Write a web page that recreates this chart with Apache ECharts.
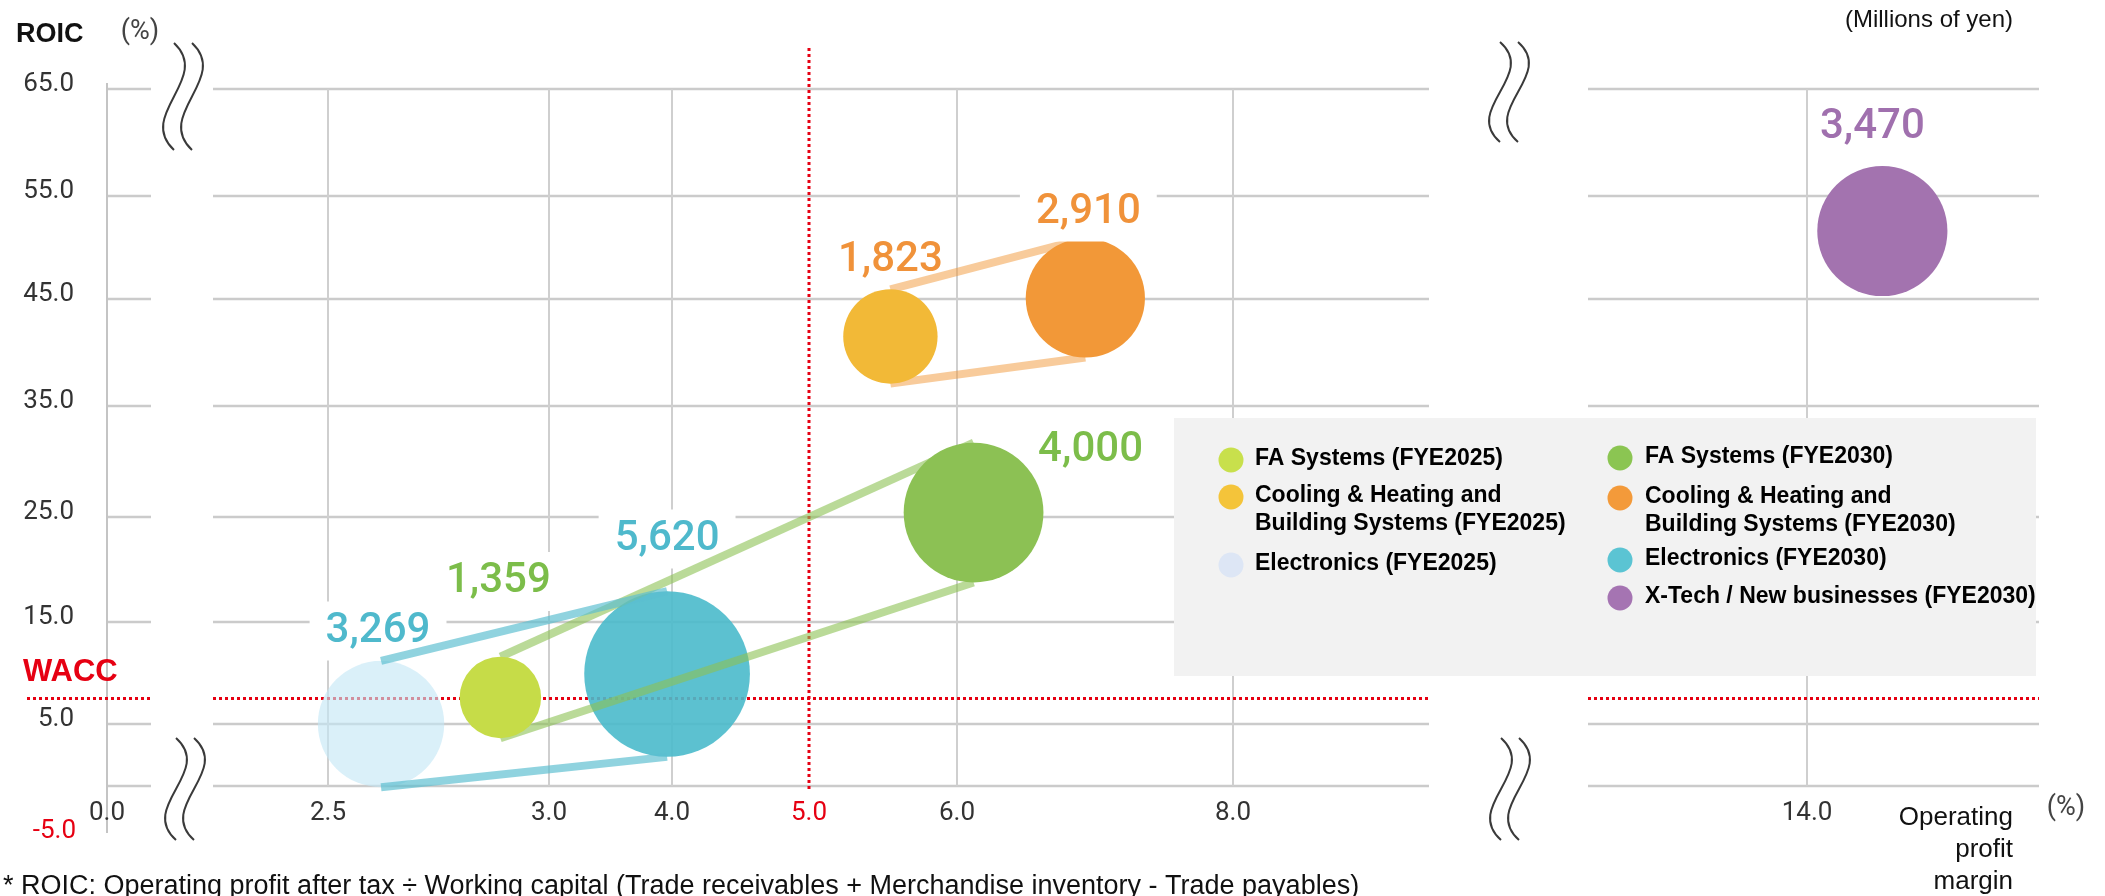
<!DOCTYPE html>
<html>
<head>
<meta charset="utf-8">
<title>ROIC and operating profit margin by segment</title>
<script src="https://cdn.jsdelivr.net/npm/echarts@6.0.0/dist/echarts.min.js"></script>
<style>
  html, body { margin: 0; padding: 0; background: #ffffff; }
  #chart { width: 2105px; height: 896px; }
</style>
</head>
<body>
<div id="chart"></div>
<script>
// ---------------- data ----------------
const seriesNames = [
  'FA Systems (FYE2025)',
  'Cooling & Heating and\nBuilding Systems (FYE2025)',
  'Electronics (FYE2025)',
  'FA Systems (FYE2030)',
  'Cooling & Heating and\nBuilding Systems (FYE2030)',
  'Electronics (FYE2030)',
  'X-Tech / New businesses (FYE2030)'
];
const opMargin = [2.89, 5.55, 2.62, 6.12, 6.93, 3.96, 14.55];   // operating profit margin (%)
const roic     = [7.6, 41.5, 5.0, 25.4, 45.1, 9.9, 51.6];        // ROIC (%)
const profit   = [1359, 1823, 3269, 4000, 2910, 5620, 3470];     // millions of yen (bubble area)
const links    = [[0, 3], [1, 4], [2, 5]];                       // FYE2025 -> FYE2030 of the same segment
const wacc = 7.5;
const marginTarget = 5.0;
const xTicks = [0, 2.5, 3, 4, 5, 6, 8, 14];
const xTickLabels = ['0.0', '2.5', '3.0', '4.0', '5.0', '6.0', '8.0', '14.0'];
const yTicks = [-5, 5, 15, 25, 35, 45, 55, 65];
const yTickLabels = ['-5.0', '5.0', '15.0', '25.0', '35.0', '45.0', '55.0', '65.0'];

// ---------------- layout & style ----------------
const GRID = { left: 107, top: 89, width: 1932, height: 697 };
// the axes are drawn with uneven tick spacing and two breaks, so each tick gets its own place along the axis
const X_TICK_POS = [0, 221, 442, 565, 702, 850, 1126, 1700];
const X_TAIL = 137;
const Y_TICK_POS = [0, 62, 164, 269, 380, 487, 590, 697];
const Y_TAIL = 10.7;
const X_GAPS = [[44, 106], [1322, 1481]];
const BREAK_MARKS = [[183, 43, 107], [185, 738, 102], [1509, 42, 100], [1510, 738, 102]];

const BUBBLE_K = 2.21;
const BUBBLE_COLOR = ['#c6dc48', '#f2b937', 'rgba(196,230,246,0.62)', '#8cc154', '#f29838', 'rgba(74,186,203,0.9)', '#a373af'];
const LEGEND_COLOR = ['#c8e04c', '#f4c43a', '#dde6f5', '#8bc552', '#f39a3a', '#5bc4d3', '#a574b2'];
const LABEL_COLOR  = ['#7cbd4a', '#f0923a', '#4fb9cc', '#7cbd4a', '#f0923a', '#4fb9cc', '#a070ae'];
const LINK_COLOR   = ['rgba(140,193,84,0.6)', 'rgba(242,152,56,0.5)', 'rgba(91,190,208,0.68)'];
const LABEL_OFFSET = [[-2, -116], [0, -76], [-3, -93], [117, -62], [3, -85], [0, -135], [-5, -104]];
const LABEL_PAD    = [[13, 16, 4, 16], [0, 0, 0, 0], [13, 16, 4, 16], [0, 0, 0, 0], [13, 16, 2, 16], [13, 16, 4, 16], [13, 16, 4, 6]];
const LABEL_BG     = ['#ffffff', 'transparent', '#ffffff', 'transparent', '#ffffff', '#ffffff', '#ffffff'];
const BUBBLE_Z = [4, 4, 2, 4, 4, 2, 4];
const LEGEND_COL = [0, 0, 0, 1, 1, 1, 1];
const LEGEND_ROW = [459, 496, 564, 457, 497, 559, 597];
const LEGEND_DOT_X = [1231, 1620];
const LEGEND_TEXT_X = [1255, 1645];

const GRID_COLOR = '#cbcbcb';
const RED = '#e60012';
const FONT_NUM = 'Roboto, "Liberation Sans", sans-serif';
const FONT_TXT = '"Liberation Sans", Arial, sans-serif';

// ---------------- scales ----------------
function piecewise(domain, range, tail) {
  const n = domain.length;
  return function (v) {
    if (v <= domain[0]) {
      return range[0] + (v - domain[0]) * (range[1] - range[0]) / (domain[1] - domain[0]);
    }
    if (v >= domain[n - 1]) return range[n - 1] + (v - domain[n - 1]) * tail;
    let i = 1;
    while (v > domain[i]) i++;
    const t = (v - domain[i - 1]) / (domain[i] - domain[i - 1]);
    return range[i - 1] + t * (range[i] - range[i - 1]);
  };
}
const sx = piecewise(xTicks, X_TICK_POS, X_TAIL);
const sy = piecewise(yTicks, Y_TICK_POS, Y_TAIL);
const bubbleSize = p => BUBBLE_K * Math.sqrt(p);

// split a horizontal run so it skips the axis breaks
function spans(a, b) {
  const out = [];
  let start = a;
  X_GAPS.forEach(([g0, g1]) => {
    if (g1 <= start || g0 >= b) return;
    if (g0 > start) out.push([start, g0]);
    start = Math.max(start, g1);
  });
  if (start < b) out.push([start, b]);
  return out;
}

function txt(x, y, text, font, fill, align, valign, extra) {
  return {
    type: 'text', x: x, y: y,
    style: Object.assign({
      text: text, font: font, fill: fill,
      align: align, verticalAlign: valign,
      textAlign: align, textVerticalAlign: valign
    }, extra || {})
  };
}
function seg(p1, p2, style) {
  return { type: 'line', shape: { x1: p1[0], y1: p1[1], x2: p2[0], y2: p2[1] }, style: style };
}

// ---------------- axes frame ----------------
const frameSeries = {
  type: 'custom', name: 'frame', z: 0, silent: true,
  data: [[0, 0]],
  renderItem: function (params, api) {
    const P = (x, y) => api.coord([x, y]);
    const kids = [];
    const gridStyle = { stroke: GRID_COLOR, lineWidth: 2.4 };
    // horizontal grid lines
    yTicks.forEach(v => {
      const yv = sy(v);
      spans(0, GRID.width).forEach(([a, b]) => kids.push(seg(P(a, yv), P(b, yv), gridStyle)));
    });
    // vertical grid lines
    xTicks.forEach(v => {
      if (v === xTicks[0] || v === marginTarget) return;
      const xv = sx(v);
      kids.push(seg(P(xv, 0), P(xv, GRID.height), { stroke: '#cfcfcf', lineWidth: 2 }));
    });
    // vertical axis line
    kids.push(seg(P(0, -47), P(0, GRID.height + 6), { stroke: '#c4c4c4', lineWidth: 2 }));
    // y tick labels
    yTicks.forEach((v, i) => {
      const p = P(0, sy(v));
      if (i === 0) {
        kids.push(txt(p[0] - 31, p[1] + 45, yTickLabels[i], '26px ' + FONT_NUM, RED, 'right', 'middle'));
      } else {
        kids.push(txt(p[0] - 33, p[1] - 5, yTickLabels[i], '26px ' + FONT_NUM, '#333333', 'right', 'middle'));
      }
    });
    // x tick labels
    xTicks.forEach((v, i) => {
      const p = P(sx(v), 0);
      kids.push(txt(p[0], p[1] + 27, xTickLabels[i], '26px ' + FONT_NUM,
        v === marginTarget ? RED : '#333333', 'center', 'middle'));
    });
    return { type: 'group', children: kids };
  }
};

// ---------------- WACC and target margin lines ----------------
const refSeries = {
  type: 'custom', name: 'reference', z: 1, silent: true,
  data: [[0, 0]],
  renderItem: function (params, api) {
    const P = (x, y) => api.coord([x, y]);
    const kids = [];
    const dot = { stroke: RED, lineWidth: 3, lineDash: [3, 3] };
    const wy = sy(wacc);
    spans(-80, GRID.width).forEach(([a, b]) => kids.push(seg(P(a, wy), P(b, wy), dot)));
    const mx = sx(marginTarget);
    kids.push(seg(P(mx, -3), P(mx, GRID.height + 42), dot));
    const w = P(-84, wy);
    kids.push(txt(w[0], w[1] - 26, 'WACC', 'bold 31px ' + FONT_TXT, RED, 'left', 'middle'));
    return { type: 'group', children: kids };
  }
};

// ---------------- FYE2025 -> FYE2030 bands ----------------
const linkSeries = {
  type: 'custom', name: 'links', z: 3, silent: true,
  data: links.map(l => [l[0], l[1]]),
  renderItem: function (params, api) {
    const [i, j] = links[params.dataIndex];
    const a = api.coord([sx(opMargin[i]), sy(roic[i])]);
    const b = api.coord([sx(opMargin[j]), sy(roic[j])]);
    const ra = bubbleSize(profit[i]) / 2, rb = bubbleSize(profit[j]) / 2;
    const style = { stroke: LINK_COLOR[params.dataIndex], lineWidth: 8 };
    return {
      type: 'group',
      children: [
        seg([a[0], a[1] - ra], [b[0], b[1] - rb], style),
        seg([a[0], a[1] + ra], [b[0], b[1] + rb], style)
      ]
    };
  }
};

// ---------------- bubbles ----------------
const bubbleSeries = seriesNames.map((name, i) => ({
  type: 'scatter', name: name, z: BUBBLE_Z[i], silent: true,
  data: [[sx(opMargin[i]), sy(roic[i]), profit[i]]],
  symbol: 'circle',
  symbolSize: v => bubbleSize(v[2]),
  itemStyle: { color: BUBBLE_COLOR[i], opacity: 1 },
  emphasis: { disabled: true },
  label: {
    show: true,
    position: 'inside',
    offset: LABEL_OFFSET[i],
    formatter: p => p.value[2].toLocaleString('en-US'),
    color: LABEL_COLOR[i],
    fontFamily: FONT_NUM,
    fontWeight: 500,
    fontSize: 42,
    backgroundColor: LABEL_BG[i],
    padding: LABEL_PAD[i]
  }
}));

// ---------------- legend panel, titles, break marks ----------------
const graphics = [];
graphics.push({ type: 'rect', z: 20, shape: { x: 1174, y: 418, width: 862, height: 258 }, style: { fill: '#f2f2f2' } });
seriesNames.forEach((name, i) => {
  const col = LEGEND_COL[i], y = LEGEND_ROW[i];
  const lines = name.split('\n').length;
  graphics.push({ type: 'circle', z: 21, shape: { cx: LEGEND_DOT_X[col], cy: y + 1, r: 12.5 }, style: { fill: LEGEND_COLOR[i] } });
  const t = txt(LEGEND_TEXT_X[col], y + (lines - 1) * 14, name, 'bold 23px ' + FONT_TXT, '#000000', 'left', 'middle', { lineHeight: 28 });
  t.z = 21;
  graphics.push(t);
});
BREAK_MARKS.forEach(([cx, top, h]) => {
  [-9, 9].forEach(dx => {
    const x = cx + dx;
    graphics.push({
      type: 'bezierCurve', z: 6,
      shape: { x1: x, y1: top, x2: x, y2: top + h, cpx1: x + 38, cpy1: top + h * 0.33, cpx2: x - 38, cpy2: top + h * 0.67 },
      style: { stroke: '#3a3a3a', lineWidth: 2, fill: null }
    });
  });
});
const titles = [
  txt(16, 35, 'ROIC', 'bold 27px ' + FONT_TXT, '#111111', 'left', 'middle'),
  txt(140, 32, '(%)', '27px ' + FONT_NUM, '#444444', 'center', 'middle'),
  txt(2013, 20, '(Millions of yen)', '24px ' + FONT_TXT, '#111111', 'right', 'middle'),
  txt(2013, 850, 'Operating\nprofit\nmargin', '26px ' + FONT_TXT, '#111111', 'right', 'middle', { lineHeight: 32 }),
  txt(2066, 808, '(%)', '27px ' + FONT_NUM, '#444444', 'center', 'middle'),
  txt(3, 887, '* ROIC: Operating profit after tax \u00F7 Working capital (Trade receivables + Merchandise inventory - Trade payables)',
    '27px ' + FONT_TXT, '#111111', 'left', 'middle')
];
titles.forEach(t => { t.z = 22; graphics.push(t); });

// ---------------- chart ----------------
const chart = echarts.init(document.getElementById('chart'), null, { renderer: 'canvas' });
chart.setOption({
  animation: false,
  backgroundColor: '#ffffff',
  grid: { left: GRID.left, top: GRID.top, width: GRID.width, height: GRID.height, containLabel: false },
  xAxis: { type: 'value', min: 0, max: GRID.width, show: false },
  yAxis: { type: 'value', min: 0, max: GRID.height, show: false },
  graphic: { elements: graphics },
  series: [frameSeries, refSeries, linkSeries].concat(bubbleSeries)
});
</script>
</body>
</html>
